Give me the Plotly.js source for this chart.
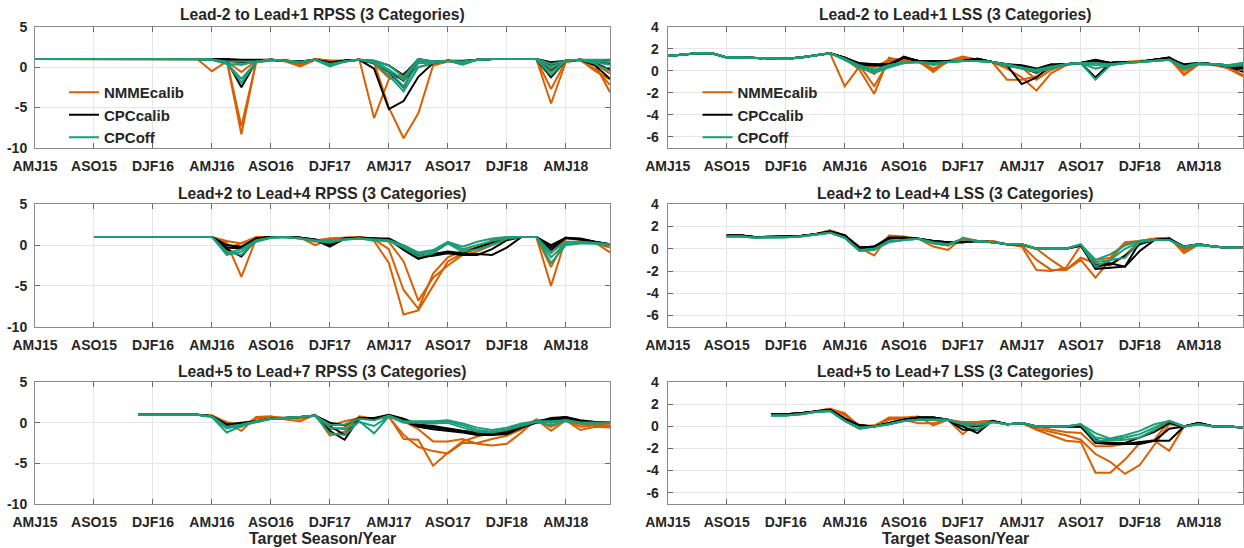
<!DOCTYPE html>
<html>
<head>
<meta charset="utf-8">
<script src="https://cdn.plot.ly/plotly-3.0.1.min.js"></script>
<style>
  html, body { margin: 0; padding: 0; background: #fff; }
  #chart { width: 1244px; height: 548px; }
</style>
</head>
<body>
<div id="chart"></div>
<script>
// Target seasons are indexed by month: AMJ15 = 0, ASO15 = 4, ... AMJ18 = 36
const seasonTickMonths = [0, 4, 8, 12, 16, 20, 24, 28, 32, 36];
const seasonTickLabels = ['AMJ15', 'ASO15', 'DJF16', 'AMJ16', 'ASO16', 'DJF17', 'AMJ17', 'ASO17', 'DJF18', 'AMJ18'];

const modelNames = ['NMMEcalib', 'CPCcalib', 'CPCoff'];
const modelColors = ['#d95f02', '#000000', '#1b9e77'];

const rpssTicks = [-10, -5, 0, 5];
const lssTicks = [-6, -4, -2, 0, 2, 4];

// ---- Lead-2 to Lead+1 RPSS (series begin at AMJ15) ----
const rpssNear_nmme = [
  [1,1,1,1,1,1,1,1,1,1,1,1.0,-0.5,0.7,-0.6,0.8,0.9,0.7,0.1,0.9,0.7,0.8,0.9,-6.3,-1.5,-0.8,0.6,0.5,0.8,0.7,0.9,1.0,1.0,1.0,1.0,-2.7,0.7,0.9,-0.5,-1.5],
  [1,1,1,1,1,1,1,1,1,1,1,1.0,0.9,0.8,-8.3,0.7,0.8,0.8,0.2,0.9,0.8,0.7,0.9,0.6,-5.0,-8.8,-5.7,0.2,0.7,0.6,0.9,1.0,1.0,1.0,1.0,-4.5,0.6,0.9,0.3,-3.1],
  [1,1,1,1,1,1,1,1,1,1,1,1.0,0.9,0.9,-7.3,0.6,0.8,0.9,0.4,1.0,0.8,0.8,0.9,0.7,-0.5,-1.5,0.0,0.4,0.8,0.5,0.9,1.0,1.0,1.0,1.0,-1.2,0.8,0.8,-0.2,-2.2],
  [1,1,1,1,1,1,1,1,1,1,1,1.0,0.95,0.9,0.3,0.8,0.9,0.8,0.5,1.0,0.8,0.8,0.9,0.4,-1.3,-1.2,0.8,0.6,0.8,0.7,0.9,1.0,1.0,1.0,1.0,-0.3,0.8,0.9,0.4,-0.8]
];
const rpssNear_cpcCalib = [
  [1,1,1,1,1,1,1,1,1,1,1,1.0,0.9,0.8,-2.5,0.7,0.9,0.8,0.6,0.9,0.3,0.8,0.9,-0.2,-5.2,-4.2,-1.2,0.5,0.8,0.6,0.9,1.0,1.0,1.0,1.0,-1.25,0.8,0.9,0.2,-1.45],
  [1,1,1,1,1,1,1,1,1,1,1,1.0,0.9,0.9,0.6,0.8,0.9,0.8,0.6,0.9,0.4,0.8,0.9,0.5,-0.6,-2.5,0.8,0.6,0.8,0.6,0.9,1.0,1.0,1.0,1.0,0.6,0.8,0.9,0.5,-0.3],
  [1,1,1,1,1,1,1,1,1,1,1,1.0,1.0,0.9,0.8,0.8,0.9,0.8,0.7,0.9,0.5,0.8,0.9,0.6,-0.4,-1.7,0.9,0.6,0.8,0.7,0.9,1.0,1.0,1.0,1.0,-0.5,0.8,0.9,0.7,0.5],
  [1,1,1,1,1,1,1,1,1,1,1,1.0,1.0,1.0,0.9,0.9,0.9,0.8,0.7,0.9,0.6,0.8,0.9,0.8,0.2,-1.0,1.0,0.7,0.8,0.8,0.9,1.0,1.0,1.0,1.0,0.3,0.8,0.9,0.8,0.9]
];
const rpssNear_cpcOff = [
  [1,1,1,1,1,1,1,1,1,1,1,1.0,0.9,0.5,-1.9,0.6,0.9,0.8,0.6,0.9,0.1,0.7,0.9,0.5,-1.0,-3.0,0.0,0.5,0.8,0.3,0.9,1.0,1.0,1.0,1.0,-1.0,0.8,0.9,0.4,-0.5],
  [1,1,1,1,1,1,1,1,1,1,1,1.0,0.9,0.5,-1.45,0.6,0.9,0.8,0.6,0.9,0.2,0.7,0.9,0.6,-0.5,-2.4,0.5,0.5,0.8,0.4,0.9,1.0,1.0,1.0,1.0,-0.6,0.8,0.9,0.6,0.3],
  [1,1,1,1,1,1,1,1,1,1,1,1.0,0.9,0.4,0.3,0.7,0.9,0.8,0.6,0.9,0.3,0.7,0.9,0.7,-0.3,-1.6,0.8,0.6,0.8,0.6,0.9,1.0,1.0,1.0,1.0,0.0,0.8,0.9,0.8,0.6],
  [1,1,1,1,1,1,1,1,1,1,1,1.0,0.95,0.7,0.7,0.7,0.9,0.8,0.6,0.9,0.4,0.7,0.9,0.8,0.2,-1.2,1.0,0.7,0.8,0.7,0.9,1.0,1.0,1.0,1.0,0.4,0.8,0.9,0.9,0.9]
];

// ---- Lead-2 to Lead+1 LSS (series begin at AMJ15) ----
const lssNear_nmme = [
  [1.35,1.45,1.6,1.6,1.2,1.2,1.15,1.1,1.1,1.2,1.4,1.6,-1.4,0.4,-0.3,1.1,1.0,0.9,0.2,0.8,1.2,1.0,0.8,-0.8,-0.8,-0.5,0.3,0.6,0.7,1.0,0.7,0.8,0.8,1.0,1.1,-0.4,0.6,0.6,0.2,-0.5],
  [1.35,1.45,1.6,1.6,1.2,1.2,1.15,1.1,1.1,1.2,1.4,1.6,1.1,0.1,-2.1,1.2,0.9,0.9,-0.1,0.9,1.3,1.0,0.8,0.2,-0.6,-1.8,-0.2,0.5,0.7,0.9,0.7,0.8,0.8,1.0,1.2,-0.3,0.7,0.5,0.3,-0.4],
  [1.35,1.45,1.6,1.6,1.2,1.2,1.15,1.1,1.1,1.2,1.4,1.6,1.2,0.5,-1.4,0.9,0.8,0.8,0.1,0.9,1.2,1.0,0.8,0.4,0.3,-0.8,0.1,0.6,0.7,0.9,0.7,0.8,0.8,1.0,1.1,0.0,0.7,0.6,0.4,0.0],
  [1.35,1.45,1.6,1.6,1.2,1.2,1.15,1.1,1.1,1.2,1.4,1.6,1.2,0.6,0.3,1.0,1.0,0.9,0.5,0.8,1.1,1.0,0.8,0.5,0.2,-0.1,0.4,0.6,0.7,0.8,0.7,0.8,0.9,1.0,1.0,0.3,0.7,0.6,0.5,0.3]
];
const lssNear_cpcCalib = [
  [1.35,1.45,1.6,1.6,1.2,1.2,1.15,1.1,1.1,1.2,1.4,1.6,1.2,0.6,0.5,0.4,1.3,0.9,0.9,0.9,0.9,1.1,0.8,0.5,-1.2,-0.6,0.5,0.6,0.7,1.0,0.7,0.8,0.8,1.0,1.2,0.5,0.7,0.6,0.4,-0.1],
  [1.35,1.45,1.6,1.6,1.2,1.2,1.15,1.1,1.1,1.2,1.4,1.6,1.2,0.5,0.5,0.6,1.2,0.9,0.8,0.8,0.9,1.1,0.8,0.5,0.3,-0.2,0.5,0.6,0.7,-0.6,0.7,0.8,0.8,1.0,1.2,0.3,0.7,0.6,0.4,0.2],
  [1.35,1.45,1.6,1.6,1.2,1.2,1.15,1.1,1.1,1.2,1.4,1.6,1.2,0.6,0.6,0.5,1.2,0.9,0.9,0.9,0.9,1.1,0.8,0.6,0.4,0.0,0.5,0.6,0.7,0.9,0.7,0.8,0.8,1.0,1.1,0.4,0.7,0.6,0.5,0.3],
  [1.35,1.45,1.6,1.6,1.2,1.2,1.15,1.1,1.1,1.2,1.4,1.6,1.2,0.7,0.6,0.6,1.2,0.9,0.9,0.9,0.9,1.0,0.8,0.6,0.5,0.2,0.6,0.6,0.7,0.9,0.7,0.8,0.8,1.0,1.1,0.6,0.7,0.6,0.5,0.5]
];
const lssNear_cpcOff = [
  [1.35,1.45,1.6,1.6,1.2,1.2,1.15,1.1,1.1,1.2,1.4,1.6,1.0,0.3,-0.2,0.3,0.7,0.8,0.6,0.8,0.9,0.9,0.8,0.5,0.2,-0.1,0.2,0.6,0.7,-0.8,0.5,0.7,0.8,0.9,1.0,0.2,0.6,0.6,0.4,0.5],
  [1.35,1.45,1.6,1.6,1.2,1.2,1.15,1.1,1.1,1.2,1.4,1.6,1.0,0.4,0.0,0.5,0.7,0.8,0.6,0.8,0.9,0.9,0.8,0.5,0.2,0.0,0.3,0.6,0.7,0.2,0.5,0.7,0.8,0.9,1.0,0.3,0.6,0.6,0.5,0.6],
  [1.35,1.45,1.6,1.6,1.2,1.2,1.15,1.1,1.1,1.2,1.4,1.6,1.1,0.3,-0.1,0.4,0.7,0.8,0.6,0.8,0.9,0.9,0.8,0.5,0.3,0.0,0.3,0.6,0.7,0.5,0.6,0.7,0.8,0.9,1.0,0.4,0.6,0.6,0.5,0.7],
  [1.35,1.45,1.6,1.6,1.2,1.2,1.15,1.1,1.1,1.2,1.4,1.6,1.1,0.5,0.1,0.5,0.8,0.8,0.7,0.8,0.9,0.9,0.8,0.6,0.3,0.1,0.4,0.6,0.7,0.7,0.6,0.7,0.8,0.9,1.0,0.4,0.7,0.6,0.5,0.7]
];

// ---- Lead+2 to Lead+4 RPSS (series begin at ASO15) ----
const rpssMid_nmme = [
  [1,1,1,1,1,1,1,1,1,-0.5,0.3,1.0,1.0,1.0,0.9,0.0,0.7,0.8,1.0,0.5,-2.2,-8.5,-8.0,-5.0,-2.0,-1.0,-0.5,0.3,1.0,1.0,1.0,-5.0,0.8,0.7,0.3,-0.9],
  [1,1,1,1,1,1,1,1,1,0.3,-3.9,0.8,1.0,1.0,0.9,0.4,0.8,0.9,1.0,0.7,-0.5,-5.5,-7.8,-3.5,-1.5,-0.7,-0.3,0.6,1.0,1.0,1.0,-2.7,0.8,0.7,0.2,-0.3],
  [1,1,1,1,1,1,1,1,1,0.5,0.2,0.9,1.0,1.0,0.9,0.6,0.8,0.9,1.0,0.8,0.4,-2.0,-6.8,-4.0,-2.5,-1.2,-0.8,0.0,0.7,1.0,1.0,-1.0,0.8,0.7,0.4,0.1]
];
const rpssMid_cpcCalib = [
  [1,1,1,1,1,1,1,1,1,-0.5,-1.4,0.7,1.0,1.0,0.9,0.6,-0.2,0.8,0.9,0.8,0.7,-0.6,-1.7,-1.2,-0.9,-1.1,-1.1,-1.2,-0.3,1.0,1.0,-0.3,0.9,0.7,0.3,0.0],
  [1,1,1,1,1,1,1,1,1,-0.3,-0.4,0.8,1.0,1.0,0.9,0.7,0.0,0.8,0.9,0.8,0.7,-0.3,-1.5,-1.3,-1.0,-1.2,-1.2,-0.5,0.6,1.0,1.0,-0.6,0.9,0.7,0.4,0.1],
  [1,1,1,1,1,1,1,1,1,0.0,-0.2,0.8,1.0,1.0,0.9,0.7,0.2,0.8,0.9,0.8,0.8,-0.1,-1.3,-1.1,-0.8,-1.0,-0.3,0.3,0.9,1.0,1.0,0.0,0.9,0.8,0.4,0.1]
];
const rpssMid_cpcOff = [
  [1,1,1,1,1,1,1,1,1,-1.2,-0.8,0.4,0.9,1.0,0.8,0.5,0.3,0.7,0.8,0.6,0.5,-0.3,-1.4,-1.0,0.2,-0.8,-0.5,0.0,0.8,1.0,1.0,-2.2,0.0,0.2,0.2,0.1],
  [1,1,1,1,1,1,1,1,1,-0.8,-1.2,0.5,0.9,1.0,0.8,0.5,0.4,0.7,0.8,0.6,0.5,-0.1,-1.1,-0.8,0.3,-0.5,0.0,0.5,0.9,1.0,1.0,-1.5,0.2,0.3,0.2,0.1],
  [1,1,1,1,1,1,1,1,1,-1.0,-0.5,0.6,0.9,1.0,0.8,0.6,0.5,0.7,0.8,0.7,0.6,0.0,-0.9,-0.6,0.4,-0.2,0.4,0.8,1.0,1.0,1.0,-0.9,0.4,0.4,0.3,0.1]
];

// ---- Lead+2 to Lead+4 LSS (series begin at ASO15) ----
const lssMid_nmme = [
  [1.2,1.2,1.05,1.05,1.1,1.15,1.3,1.65,1.2,0.1,-0.6,1.2,1.1,0.9,0.2,-0.1,1.0,0.7,0.7,0.4,0.2,-1.9,-2.0,-1.7,0.3,-1.0,-0.8,0.6,0.7,0.9,1.0,-0.4,0.4,0.2,0.1,0.1],
  [1.2,1.2,1.05,1.05,1.1,1.15,1.3,1.65,1.2,0.1,0.1,1.1,1.0,0.9,0.5,0.3,0.9,0.7,0.7,0.4,0.3,-1.0,-1.9,-1.9,-1.0,-2.6,-1.0,0.5,0.7,0.9,1.0,-0.2,0.4,0.2,0.1,0.1],
  [1.2,1.2,1.05,1.05,1.1,1.15,1.3,1.65,1.2,0.2,0.0,1.0,1.0,0.9,0.6,0.4,0.8,0.7,0.6,0.4,0.3,0.0,-1.0,-1.9,-0.8,-1.3,-1.5,-0.6,0.7,0.9,0.9,0.0,0.4,0.2,0.1,0.1]
];
const lssMid_cpcCalib = [
  [1.2,1.2,1.05,1.05,1.1,1.15,1.3,1.55,1.2,0.1,0.2,1.0,1.0,0.9,0.7,0.6,0.6,0.7,0.6,0.4,0.4,0.0,0.0,0.0,0.3,-1.8,-1.7,-1.6,0.6,0.8,0.9,0.1,0.4,0.2,0.1,0.1],
  [1.2,1.2,1.05,1.05,1.1,1.15,1.3,1.55,1.2,0.1,0.1,1.0,1.0,0.9,0.7,0.6,0.6,0.7,0.6,0.4,0.4,0.0,0.0,0.0,0.3,-1.5,-1.3,-1.6,-0.2,0.8,0.9,0.2,0.4,0.2,0.1,0.1],
  [1.2,1.2,1.05,1.05,1.1,1.15,1.3,1.55,1.2,0.1,0.2,0.9,1.0,0.9,0.7,0.6,0.6,0.7,0.6,0.4,0.4,0.0,0.0,0.0,0.3,-1.6,-1.4,-0.6,0.4,0.8,0.9,0.2,0.4,0.2,0.1,0.1]
];
const lssMid_cpcOff = [
  [1.1,1.1,1.0,1.0,1.05,1.1,1.25,1.45,1.0,-0.2,-0.1,0.6,0.8,0.9,0.5,0.4,0.9,0.7,0.6,0.4,0.4,0.0,0.0,0.0,0.4,-1.2,-1.0,-0.8,0.6,0.8,0.8,0.1,0.4,0.2,0.1,0.1],
  [1.1,1.1,1.0,1.0,1.05,1.1,1.25,1.45,1.0,-0.2,0.0,0.6,0.8,0.9,0.5,0.3,0.9,0.7,0.6,0.4,0.4,0.0,0.0,0.0,0.4,-1.6,-1.0,0.0,0.6,0.8,0.8,0.1,0.3,0.2,0.1,0.1],
  [1.1,1.1,1.0,1.0,1.05,1.1,1.25,1.45,1.0,-0.1,0.0,0.7,0.8,0.9,0.6,0.4,0.9,0.7,0.6,0.4,0.4,0.0,0.0,0.0,0.4,-1.0,-0.5,0.3,0.7,0.8,0.8,0.2,0.4,0.2,0.1,0.1]
];

// ---- Lead+5 to Lead+7 RPSS (series begin at NDJ16) ----
const rpssFar_nmme = [
  [1,1,1,1,1,0.9,-0.1,-1.0,0.7,0.8,0.4,0.2,1.0,-1.6,-1.1,0.8,0.5,0.8,-2.0,-2.1,-5.3,-3.7,-2.3,-1.7,-1.2,-1.3,-0.6,0.4,-1.0,0.3,-0.9,-0.5,-0.6],
  [1,1,1,1,1,0.9,0.0,-0.5,0.6,0.7,0.6,0.5,0.9,-0.8,-0.6,0.7,0.5,0.7,-1.5,-3.0,-3.5,-3.8,-2.5,-2.5,-2.0,-1.6,-0.8,0.3,-0.5,0.3,-0.5,-0.3,-0.4],
  [1,1,1,1,1,0.8,0.1,-0.3,0.5,0.7,0.6,0.6,0.9,-0.4,0.2,0.6,0.4,0.8,0.2,-0.8,-2.3,-2.3,-2.0,-2.6,-2.8,-2.6,-1.2,0.4,0.0,0.4,-0.2,-0.2,-0.3]
];
const rpssFar_cpcCalib = [
  [1,1,1,1,1,0.8,-0.4,-0.2,0.1,0.5,0.6,0.7,0.9,-1.0,-2.1,0.6,0.4,0.9,0.2,-0.5,-0.8,-1.0,-1.2,-1.5,-1.5,-1.4,-0.6,0.0,0.2,0.6,0.2,0.0,0.0],
  [1,1,1,1,1,0.8,-0.3,-0.1,0.2,0.5,0.6,0.7,0.9,-0.4,-1.5,0.5,0.5,0.9,0.4,-0.3,-0.6,-0.8,-1.1,-1.4,-1.4,-1.2,-0.4,0.1,0.6,0.7,0.3,0.1,0.0],
  [1,1,1,1,1,0.8,-0.2,0.0,0.2,0.5,0.6,0.7,0.9,0.0,-0.3,0.6,0.6,1.0,0.5,-0.2,-0.4,-0.7,-1.0,-1.2,-1.3,-1.1,-0.3,0.2,0.4,0.7,0.2,0.1,0.0]
];
const rpssFar_cpcOff = [
  [1,1,1,1,1,0.7,-1.2,-0.4,0.1,0.5,0.6,0.7,0.9,-1.3,-1.5,0.2,-1.3,0.8,0.0,0.0,-0.1,0.0,-0.6,-1.1,-1.2,-0.9,-0.4,0.1,-0.3,0.2,-0.1,-0.1,0.0],
  [1,1,1,1,1,0.7,-0.7,-0.3,0.1,0.5,0.6,0.7,0.9,-0.6,-0.8,0.1,-0.4,0.8,0.1,0.1,0.1,0.2,-0.3,-0.9,-1.1,-0.8,-0.2,0.2,0.0,0.3,0.0,0.0,0.0],
  [1,1,1,1,1,0.8,-0.5,-0.2,0.2,0.5,0.6,0.7,0.9,-0.3,-0.2,0.5,0.3,0.9,0.2,0.2,0.2,0.3,-0.1,-0.6,-0.9,-0.6,-0.1,0.2,0.2,0.3,0.0,0.0,0.0]
];

// ---- Lead+5 to Lead+7 LSS (series begin at NDJ16) ----
const lssFar_nmme = [
  [1.1,1.1,1.2,1.35,1.6,1.2,0.0,0.0,0.8,0.8,0.9,0.1,0.6,-0.7,0.4,0.5,0.2,0.3,-0.3,-0.8,-1.3,-1.4,-4.2,-4.2,-3.0,-1.5,-1.2,0.5,0.0,0.3,0.0,0.0,-0.1],
  [1.1,1.1,1.2,1.35,1.6,1.1,0.0,0.1,0.7,0.6,0.3,0.3,0.6,0.4,0.4,0.5,0.2,0.3,-0.2,-0.5,-0.8,-1.2,-2.5,-3.2,-4.3,-3.5,-1.6,0.2,0.0,0.3,0.0,0.0,-0.1],
  [1.1,1.1,1.2,1.35,1.6,1.0,0.1,0.0,0.6,0.7,0.8,0.7,0.6,0.2,0.4,0.5,0.2,0.3,0.0,-0.3,-0.5,-0.6,-1.8,-1.8,-1.6,-1.5,-1.3,-2.2,0.0,0.3,0.0,0.0,-0.1]
];
const lssFar_cpcCalib = [
  [1.1,1.1,1.2,1.35,1.5,0.7,0.1,0.0,0.3,0.6,0.8,0.8,0.6,0.0,-0.6,0.5,0.2,0.3,0.0,0.0,0.0,0.0,-1.2,-1.6,-1.6,-1.6,-1.3,-1.3,0.0,0.3,0.0,0.0,-0.1],
  [1.1,1.1,1.2,1.35,1.5,0.7,0.1,0.0,0.3,0.6,0.8,0.8,0.6,-0.3,-0.3,0.5,0.2,0.3,0.0,0.0,0.0,0.0,-1.5,-1.6,-1.6,-1.4,-1.3,-0.2,0.0,0.3,0.0,0.0,-0.1],
  [1.1,1.1,1.2,1.35,1.5,0.7,0.1,0.0,0.3,0.6,0.8,0.8,0.6,0.1,0.0,0.5,0.2,0.3,0.0,0.0,0.0,0.0,-1.3,-1.5,-1.5,-1.0,-0.5,0.3,0.0,0.3,0.0,0.0,-0.1]
];
const lssFar_cpcOff = [
  [1.0,1.0,1.1,1.3,1.4,0.5,-0.2,0.0,0.2,0.5,0.6,0.6,0.6,0.2,-0.3,0.4,0.2,0.3,0.0,0.0,0.0,0.2,-1.3,-1.3,-1.2,-1.0,-0.3,0.5,0.0,0.2,0.0,0.0,-0.1],
  [1.0,1.0,1.1,1.3,1.4,0.5,-0.2,0.0,0.2,0.5,0.6,0.6,0.6,0.2,0.1,0.4,0.2,0.3,0.0,0.0,0.0,0.2,-1.0,-1.2,-1.0,-0.7,-0.1,0.5,0.0,0.2,0.0,0.0,-0.1],
  [1.0,1.0,1.1,1.3,1.4,0.5,-0.1,0.0,0.2,0.5,0.6,0.6,0.6,0.3,0.2,0.4,0.2,0.3,0.0,0.0,0.0,0.2,-0.6,-1.1,-0.8,-0.4,0.2,0.5,0.0,0.2,0.0,0.0,-0.1]
];

// ---- figure assembly ----
const W = 1244, H = 548;
const FONT = 'Liberation Sans, Arial, Helvetica, sans-serif';
const TEXT = '#262626';

// plot boxes in pixels: columns [left, right], rows [top, bottom]
const colPx = [[35, 610], [667.7, 1243]];
const rowPx = [[26.7, 148], [204.3, 326.7], [382.3, 503.7]];
const titleRowPx = [15, 193, 371];

const panels = [
  { title: 'Lead-2 to Lead+1 RPSS (3 Categories)', kind: 'rpss', start: 0, row: 0, col: 0, series: [rpssNear_nmme, rpssNear_cpcCalib, rpssNear_cpcOff], legend: 'legend' },
  { title: 'Lead-2 to Lead+1 LSS (3 Categories)',  kind: 'lss',  start: 0, row: 0, col: 1, series: [lssNear_nmme, lssNear_cpcCalib, lssNear_cpcOff], legend: 'legend2' },
  { title: 'Lead+2 to Lead+4 RPSS (3 Categories)', kind: 'rpss', start: 4, row: 1, col: 0, series: [rpssMid_nmme, rpssMid_cpcCalib, rpssMid_cpcOff] },
  { title: 'Lead+2 to Lead+4 LSS (3 Categories)',  kind: 'lss',  start: 4, row: 1, col: 1, series: [lssMid_nmme, lssMid_cpcCalib, lssMid_cpcOff] },
  { title: 'Lead+5 to Lead+7 RPSS (3 Categories)', kind: 'rpss', start: 7, row: 2, col: 0, series: [rpssFar_nmme, rpssFar_cpcCalib, rpssFar_cpcOff] },
  { title: 'Lead+5 to Lead+7 LSS (3 Categories)',  kind: 'lss',  start: 7, row: 2, col: 1, series: [lssFar_nmme, lssFar_cpcCalib, lssFar_cpcOff] }
];

const axisBase = {
  showgrid: true, gridcolor: '#e6e6e6', gridwidth: 1,
  zeroline: false, showline: true, linecolor: '#8a8a8a', linewidth: 1,
  mirror: 'ticks', ticks: 'inside', ticklen: 5, tickcolor: '#6a6a6a', tickwidth: 1,
  tickfont: { family: FONT, size: 14, color: TEXT, weight: 'bold' },
  fixedrange: true
};

const traces = [];
const layout = {
  width: W, height: H,
  margin: { l: 0, r: 0, t: 0, b: 0 },
  paper_bgcolor: '#ffffff', plot_bgcolor: '#ffffff',
  showlegend: true,
  annotations: []
};

const legendCommon = {
  bgcolor: 'rgba(0,0,0,0)', borderwidth: 0,
  font: { family: FONT, size: 15, color: TEXT, weight: 'bold' },
  xanchor: 'left', yanchor: 'top', tracegroupgap: 0
};
layout.legend = Object.assign({}, legendCommon, { x: 64 / W, y: 1 - 76 / H });
layout.legend2 = Object.assign({}, legendCommon, { x: 697.5 / W, y: 1 - 76 / H });

panels.forEach((p, k) => {
  const sfx = k === 0 ? '' : String(k + 1);
  const xName = 'x' + sfx, yName = 'y' + sfx;
  const cx = colPx[p.col], ry = rowPx[p.row];

  layout['xaxis' + sfx] = Object.assign({}, axisBase, {
    domain: [cx[0] / W, cx[1] / W],
    anchor: yName,
    range: [0, 39],
    tickvals: seasonTickMonths,
    ticktext: seasonTickLabels,
    ticklabelstandoff: 5
  });

  const yt = p.kind === 'rpss' ? rpssTicks : lssTicks;
  layout['yaxis' + sfx] = Object.assign({}, axisBase, {
    domain: [1 - ry[1] / H, 1 - ry[0] / H],
    anchor: xName,
    range: p.kind === 'rpss' ? [-10, 5] : [-7, 4],
    tickvals: yt,
    ticktext: yt.map(v => String(v)),
    ticklabelstandoff: p.kind === 'rpss' ? 4 : 5
  });

  // panel title
  layout.annotations.push({
    text: p.title, xref: 'paper', yref: 'paper',
    x: (cx[0] + cx[1]) / 2 / W, y: 1 - titleRowPx[p.row] / H,
    xanchor: 'center', yanchor: 'middle', showarrow: false,
    font: { family: FONT, size: 15.7, color: TEXT, weight: 'bold' }
  });

  // bottom row carries the shared x-axis label
  if (p.row === 2) {
    layout.annotations.push({
      text: 'Target Season/Year', xref: 'paper', yref: 'paper',
      x: (cx[0] + cx[1]) / 2 / W, y: 1 - 538 / H,
      xanchor: 'center', yanchor: 'middle', showarrow: false,
      font: { family: FONT, size: 16, color: TEXT, weight: 'bold' }
    });
  }

  p.series.forEach((group, m) => {
    group.forEach((vals, i) => {
      const tr = {
        type: 'scatter', mode: 'lines',
        x: vals.map((_, j) => p.start + j),
        y: vals,
        xaxis: xName, yaxis: yName,
        name: modelNames[m],
        line: { color: modelColors[m], width: 2 },
        hoverinfo: 'skip',
        showlegend: false
      };
      if (p.legend) {
        tr.legend = p.legend;
        tr.legendgroup = p.legend + m;
        tr.showlegend = (i === 0);
      }
      traces.push(tr);
    });
  });
});

Plotly.newPlot('chart', traces, layout, { displayModeBar: false, staticPlot: true });
</script>
</body>
</html>
